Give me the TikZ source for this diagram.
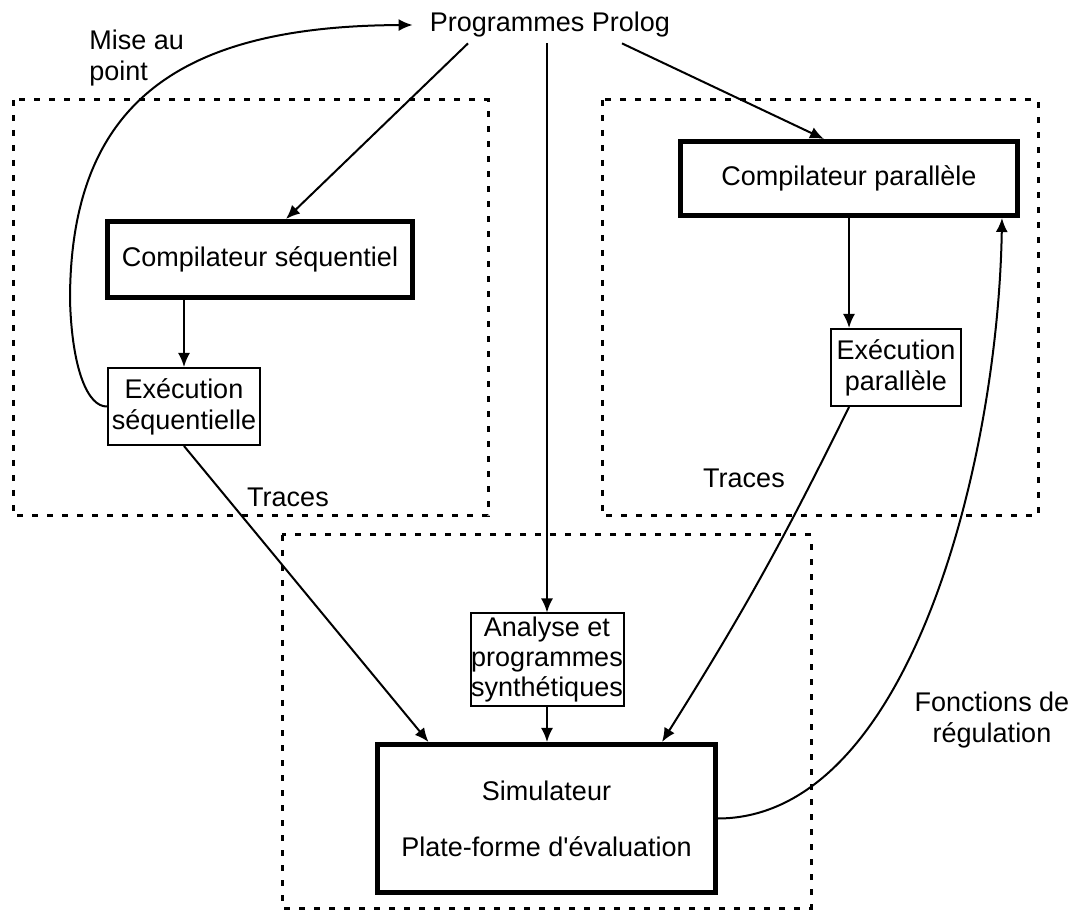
\documentclass[tikz,border=0pt]{standalone}
\usepackage{fontspec}
\setmainfont{Liberation Sans}
\usetikzlibrary{arrows.meta}
\begin{document}
\begin{tikzpicture}[x=0.5pt,y=-0.5pt,
  every node/.style={font=\fontsize{13.5}{15.5}\selectfont},
  thickbox/.style={draw, line width=2.5pt, inner sep=0pt, align=center},
  thinbox/.style={draw, line width=1pt, inner sep=0pt, align=center},
  zone/.style={line width=1.5pt, dash pattern=on 3pt off 4.5pt},
  arr/.style={line width=1pt, -{Latex[length=7pt,width=6pt]}},
  lbl/.style={inner sep=0pt}]
\useasboundingbox (0,0) rectangle (1072,914);

% dotted zones
\draw[zone] (13,100) rectangle (488,516);
\draw[zone] (602,100) rectangle (1038,516);
\draw[zone] (282,535) rectangle (811,908);

% nodes
\node[lbl, minimum width=137pt, minimum height=18pt] (prog) at (550,25) {Programmes Prolog};
\node[thickbox, minimum width=152.5pt, minimum height=38pt] (cs) at (260,259.5) {Compilateur séquentiel};
\node[thinbox, minimum width=76pt, minimum height=38.5pt] (es) at (184,406.5) {Exécution\\séquentielle};
\node[thickbox, minimum width=168.5pt, minimum height=37pt] (cp) at (849,178.5) {Compilateur parallèle};
\node[thinbox, minimum width=65pt, minimum height=38.5pt] (ep) at (896,367.5) {Exécution\\parallèle};
\node[thinbox, minimum width=76.5pt, minimum height=46.5pt, font=\fontsize{13.5}{15}\selectfont] (an) at (547,660) {Analyse et\\programmes\\synthétiques};
\node[thickbox, minimum width=169pt, minimum height=74pt] (sim) at (546.5,818.5) {Simulateur\\[12.5pt]Plate-forme d\textquotesingle évaluation};

% labels
\node[lbl, align=left, anchor=west] (mise) at (89,58) {Mise au\\point};
\node[lbl] (tr1) at (288,497) {Traces};
\node[lbl] (tr2) at (744,478) {Traces};
\node[lbl, align=center] (fr) at (992,720) {Fonctions de\\régulation};

% connectors
\draw[arr] ([xshift=-41pt]prog.south) -- ([xshift=13pt]cs.north);
\draw[arr] ([xshift=36pt]prog.south) -- ([xshift=-12.5pt]cp.north);
\draw[arr] (an.north |- prog.south) -- (an.north);
\draw[arr] (cs.south -| es.north) -- (es.north);
\draw[arr] (cp.south) -- (cp.south |- ep.north);
\draw[arr] (es.south) -- ([xshift=-59pt]sim.north);
\draw[arr] (cp.south |- ep.south) to[bend left=3] ([xshift=57.75pt]sim.north);
\draw[arr] (an.south) -- (an.south |- sim.north);
\draw[arr] (es.west) .. controls (88,407) and (72,370) .. (70,300)
           .. controls (70,100) and (183,26) .. (prog.west);
\draw[arr] (sim.east) .. controls (910,818) and (998,460) .. ([xshift=76.5pt]cp.south);
\end{tikzpicture}
\end{document}
